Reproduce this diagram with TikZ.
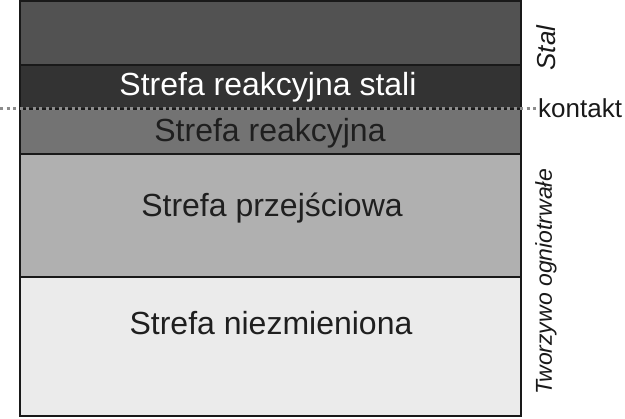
\documentclass[tikz,border=0pt]{standalone}
\usepackage{fontspec}
\setmainfont{Liberation Sans}
\begin{document}
\begin{tikzpicture}[x=1pt,y=-1pt,
  layer/.style={draw=black!90, line width=2pt, anchor=north west, minimum width=501pt, inner sep=0pt, outer sep=0pt},
  zonetext/.style={font=\fontsize{32}{38}\selectfont, text=black!88, inner sep=0pt},
  sidetext/.style={font=\fontsize{26}{30}\selectfont\itshape, text=black!90, inner sep=0pt, rotate=90}]
\useasboundingbox (0,0) rectangle (625,419);
\node[layer, fill=black!68, minimum height=64pt] (stal) at (20,1) {};
\node[layer, fill=black!80, minimum height=44pt] (rstal) at (20,65) {};
\node[layer, fill=black!55, minimum height=45pt] (reak) at (20,109) {};
\node[layer, fill=black!31, minimum height=123pt] (przej) at (20,154) {};
\node[layer, fill=black!8, minimum height=139pt] (niez) at (20,277) {};
\node[zonetext, text=white] (t1) at (268,87) {Strefa reakcyjna stali};
\node[zonetext] (t2) at (270,133) {Strefa reakcyjna};
\node[zonetext] (t3) at (272,208) {Strefa przejściowa};
\node[zonetext] (t4) at (271,323) {Strefa niezmieniona};
\node[font=\fontsize{26}{30}\selectfont, text=black!90, inner sep=0pt, anchor=west] (kontakt) at (538,108) {kontakt};
\node[sidetext] (stallab) at (546,48) {Stal};
\node[sidetext, font=\fontsize{23}{28}\selectfont\itshape] (tworzywo) at (546,282) {Tworzywo ogniotrwałe};
\coordinate (dl) at (0,109);
\draw[black!45, line width=3pt, dash pattern=on 3pt off 3.5pt] (dl) -- (kontakt.west |- dl);
\end{tikzpicture}
\end{document}
